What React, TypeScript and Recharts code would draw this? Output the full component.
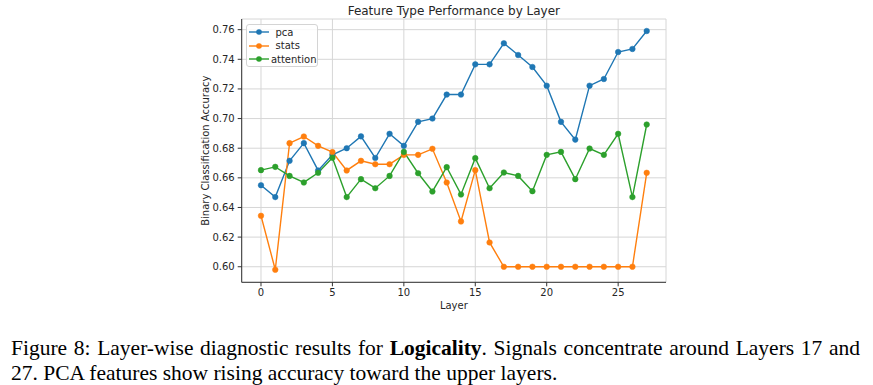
import React from 'react'
import { LineChart, Line, XAxis, YAxis, CartesianGrid } from 'recharts'

const layers = [
  0, 1, 2, 3, 4, 5, 6, 7, 8, 9, 10, 11, 12, 13, 14, 15, 16, 17, 18, 19, 20, 21, 22, 23, 24, 25, 26, 27,
]
const pca = [
  0.655, 0.647, 0.6715, 0.6834, 0.665, 0.6755, 0.68, 0.688, 0.6734, 0.6897, 0.6816, 0.6978, 0.7,
  0.7162, 0.7162, 0.7366, 0.7366, 0.7508, 0.7429, 0.7348, 0.7222, 0.6978, 0.6858, 0.7222, 0.7267,
  0.7449, 0.747, 0.7591,
]
const stats = [
  0.6344, 0.598, 0.6834, 0.6879, 0.6816, 0.6774, 0.665, 0.6715, 0.6692, 0.6692, 0.6755, 0.6755,
  0.6796, 0.6569, 0.6306, 0.6652, 0.6164, 0.6, 0.6, 0.6, 0.6, 0.6, 0.6, 0.6, 0.6, 0.6, 0.6, 0.6634,
]
const attention = [
  0.6652, 0.6674, 0.6613, 0.6569, 0.6634, 0.6735, 0.647, 0.6591, 0.653, 0.6613, 0.6775, 0.6631,
  0.6508, 0.6672, 0.6488, 0.6733, 0.653, 0.6636, 0.6613, 0.651, 0.6755, 0.6775, 0.6591, 0.6798,
  0.6755, 0.6897, 0.647, 0.696,
]
const xTicks = [0, 5, 10, 15, 20, 25]
const yTicks = [0.6, 0.62, 0.64, 0.66, 0.68, 0.7, 0.72, 0.74, 0.76]

const series = [
  { key: 'pca', color: '#1f77b4' },
  { key: 'stats', color: '#ff7f0e' },
  { key: 'attention', color: '#2ca02c' },
]

const data = layers.map((layer, i) => ({
  layer,
  pca: pca[i],
  stats: stats[i],
  attention: attention[i],
}))

const X_DOMAIN = [-1.35, 28.35]
const Y_DOMAIN = [0.5895, 0.7672]
const FONT = '"DejaVu Sans", sans-serif'
const SERIF = '"Liberation Serif", "Times New Roman", serif'
const tickStyle = { fontSize: 10, fill: '#262626', fontFamily: FONT }

function LegendBox() {
  return (
    <div
      style={{
        position: 'absolute',
        left: 245.5,
        top: 23.5,
        width: 72,
        height: 43,
        border: '1px solid #d4d4d4',
        borderRadius: 3,
        background: 'rgba(255,255,255,0.85)',
        boxSizing: 'border-box',
        fontFamily: FONT,
        fontSize: 10,
        color: '#262626',
        paddingTop: 1,
      }}
    >
      {series.map((s) => (
        <div key={s.key} style={{ display: 'flex', alignItems: 'center', height: 13.5 }}>
          <svg width={28} height={10} style={{ marginLeft: 1 }}>
            <line x1={1} y1={5} x2={21} y2={5} stroke={s.color} strokeWidth={1.4} />
            <circle cx={11} cy={5} r={2.8} fill={s.color} />
          </svg>
          <span>{s.key}</span>
        </div>
      ))}
    </div>
  )
}

export default function App() {
  return (
    <div
      style={{
        position: 'absolute',
        left: 0,
        top: 0,
        width: 873,
        height: 385,
        background: '#fff',
        overflow: 'hidden',
      }}
    >
      <div
        style={{
          position: 'absolute',
          left: 241.7,
          width: 424.3,
          top: 4,
          textAlign: 'center',
          fontFamily: FONT,
          fontSize: 12,
          color: '#262626',
        }}
      >
        Feature Type Performance by Layer
      </div>
      <div style={{ position: 'absolute', left: 0, top: 0 }}>
        <LineChart
          width={873}
          height={320}
          data={data}
          margin={{ top: 19, right: 207, bottom: 7.7, left: 191.7 }}
        >
          <CartesianGrid stroke="#d6d6d6" strokeWidth={1} />
          <XAxis
            dataKey="layer"
            type="number"
            domain={X_DOMAIN}
            ticks={xTicks}
            allowDataOverflow
            height={30}
            tickSize={4}
            tickMargin={3}
            tick={tickStyle}
            stroke="#333"
            tickLine={{ stroke: '#333' }}
            label={{
              value: 'Layer',
              position: 'insideBottom',
              offset: 3,
              style: { fontSize: 10, fill: '#262626', fontFamily: FONT },
            }}
          />
          <YAxis
            type="number"
            domain={Y_DOMAIN}
            ticks={yTicks}
            allowDataOverflow
            width={50}
            tickSize={4}
            tickMargin={3}
            tick={tickStyle}
            tickFormatter={(v: number) => v.toFixed(2)}
            stroke="#333"
            tickLine={{ stroke: '#333' }}
            label={{
              value: 'Binary Classification Accuracy',
              angle: -90,
              position: 'insideLeft',
              offset: 14,
              style: { fontSize: 10, fill: '#262626', fontFamily: FONT, textAnchor: 'middle' },
            }}
          />
          <XAxis
            xAxisId="top"
            orientation="top"
            dataKey="layer"
            type="number"
            domain={X_DOMAIN}
            tick={false}
            tickLine={false}
            height={0}
            stroke="#333"
            allowDataOverflow
          />
          <YAxis
            yAxisId="right"
            orientation="right"
            domain={Y_DOMAIN}
            tick={false}
            tickLine={false}
            width={0}
            stroke="#333"
            allowDataOverflow
          />
          {series.map((s) => (
            <Line
              key={s.key}
              dataKey={s.key}
              stroke={s.color}
              strokeWidth={1.4}
              dot={{ r: 2.8, fill: s.color, stroke: s.color, strokeWidth: 0.5 }}
              isAnimationActive={false}
            />
          ))}
        </LineChart>
      </div>
      <LegendBox />
      <div
        style={{
          position: 'absolute',
          left: 11,
          top: 336.3,
          width: 849,
          fontFamily: SERIF,
          fontSize: 21.5,
          lineHeight: '24.3px',
          color: '#000',
        }}
      >
        <div style={{ textAlign: 'justify', textAlignLast: 'justify' }}>
          Figure 8: Layer-wise diagnostic results for <b>Logicality</b>. Signals concentrate around Layers 17 and
        </div>
        <div>27. PCA features show rising accuracy toward the upper layers.</div>
      </div>
    </div>
  )
}
